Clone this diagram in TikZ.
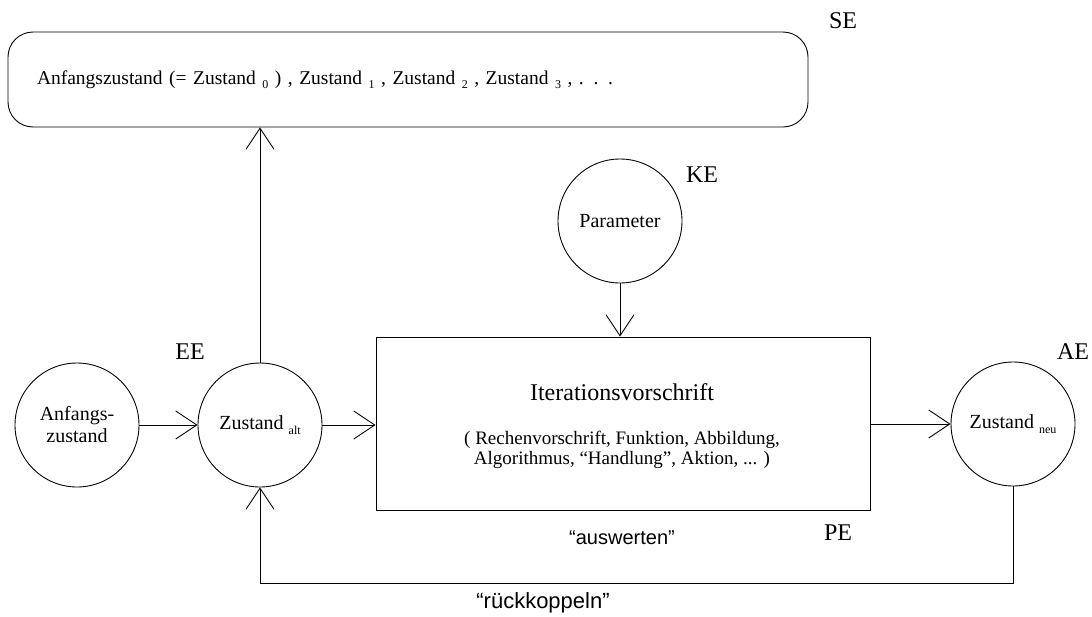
\documentclass[tikz,border=0pt]{standalone}
\usepackage{fontspec}
\setmainfont{Liberation Serif}
\setsansfont{Liberation Sans}
\usetikzlibrary{arrows.meta}
\newcommand\sbs[1]{\raisebox{-4.5pt}{\fontsize{12}{12}\selectfont #1}}
\begin{document}
\begin{tikzpicture}[x=1pt,y=-1pt, line width=0.9pt,
  circ/.style={draw, circle, minimum size=124pt, inner sep=0pt, align=center,
    font=\fontsize{20}{22}\selectfont},
  lab/.style={font=\fontsize{24}{24}\selectfont},
  sanslab/.style={font=\sffamily\fontsize{20}{20}\selectfont},
  arr/.style={-{Straight Barb[length=21pt,width=28pt,line width=0.9pt]}}]
\useasboundingbox (0,0) rectangle (1092,616);

\node[draw, rounded corners=25pt, minimum width=800pt, minimum height=95pt,
  text width=742pt, inner xsep=29pt, align=left, font=\fontsize{19.5}{22}\selectfont]
  (se) at (408,79.5)
  {Anfangszustand (= Zustand \sbs{0} ) , Zustand \sbs{1} , Zustand \sbs{2} , Zustand \sbs{3} , . . .};

\node[circ] (a0) at (77,425) {Anfangs-\\zustand};
\node[circ] (alt) at (260,425) {Zustand \sbs{alt}};
\node[circ] (par) at (620,221) {Parameter};
\node[circ] (neu) at (1013,424) {Zustand \sbs{neu}};
\node[draw, minimum width=494pt, minimum height=173pt, inner sep=0pt] (pe) at (623,423.5) {};
\node[font=\fontsize{24}{24}\selectfont] (it) at (622,392) {Iterationsvorschrift};
\node[align=center, font=\fontsize{19}{20}\selectfont] (desc) at (622,450)
  {( Rechenvorschrift, Funktion, Abbildung,\\Algorithmus, “Handlung”, Aktion, ... )};

\node[lab] (lse) at (843,21) {SE};
\node[lab] (lee) at (190,352) {EE};
\node[lab] (lke) at (702,175) {KE};
\node[lab] (lae) at (1073,352) {AE};
\node[lab] (lpe) at (838,533) {PE};
\node[sanslab] (ausw) at (622,538) {“auswerten”};
\node[sanslab, font=\sffamily\fontsize{22}{22}\selectfont] (rueck) at (543,603) {“rückkoppeln”};

\coordinate (fb) at (1013,583);
\draw[arr] (a0) -- (alt);
\draw[arr] (alt.north) -- (alt.north |- se.south);
\draw[arr] (alt.east) -- (pe.west |- alt.east);
\draw[arr] (par.south) -- (par.south |- pe.north);
\draw[arr] (pe.east |- neu.west) -- (neu.west);
\draw[arr] (neu.south) -- (fb) -| (alt.south);
\end{tikzpicture}
\end{document}
